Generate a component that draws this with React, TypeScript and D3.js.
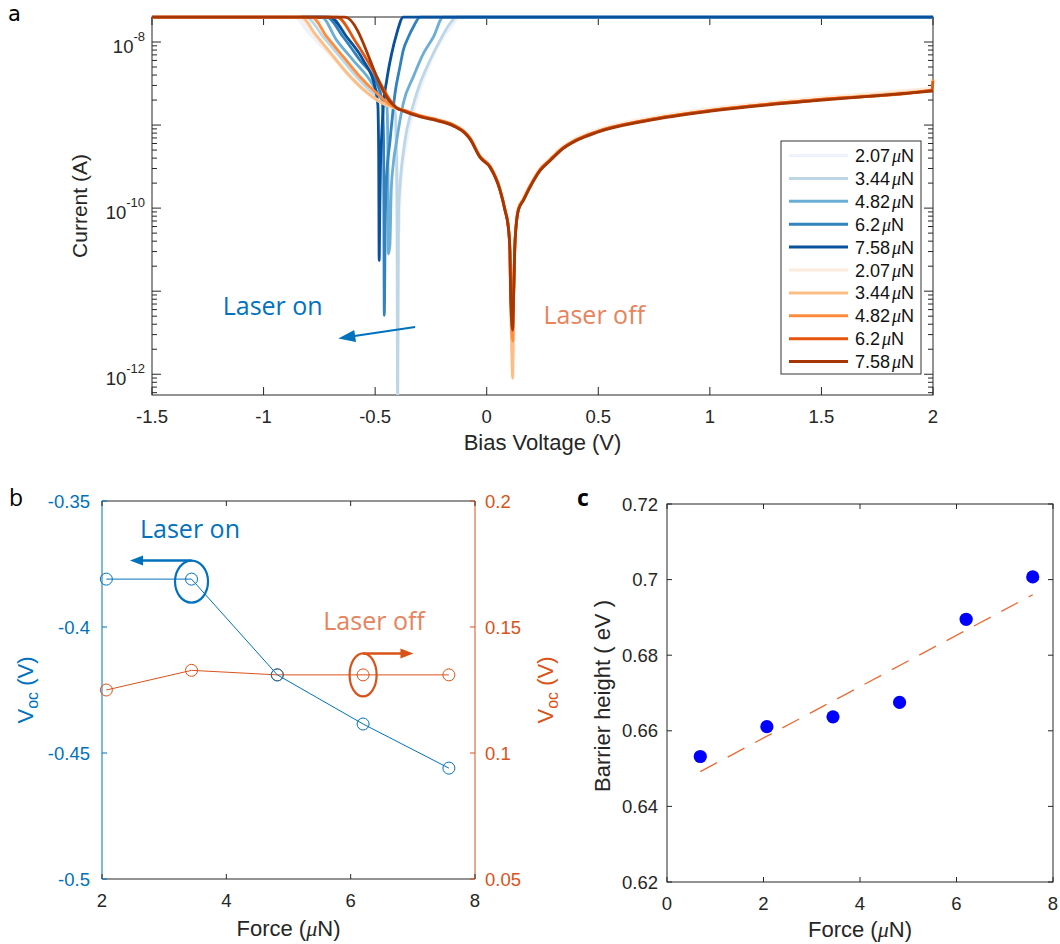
import React from 'react';
import * as d3 from 'd3';

type P = [number, number];

// ---------- Panel a : bias voltage (V) vs log10(current / A) ----------
const blue207: P[] = [[-1.5,-7.7],[-0.86,-7.7],[-0.8,-7.88],[-0.72,-8.1],[-0.64,-8.33],[-0.56,-8.55],[-0.48,-8.72],[-0.42,-8.82],[-0.405,-9.3],[-0.396,-10.3],[-0.388,-9.8],[-0.36,-9.2],[-0.32,-8.75],[-0.27,-8.35],[-0.22,-8.05],[-0.17,-7.85],[-0.12,-7.7],[2.0,-7.7]];
const blue344: P[] = [[-1.5,-7.7],[-0.81,-7.7],[-0.732,-7.94],[-0.657,-8.18],[-0.583,-8.42],[-0.508,-8.62],[-0.433,-8.74],[-0.41,-8.85],[-0.403,-9.6],[-0.399,-12.6],[-0.395,-10.0],[-0.366,-9.18],[-0.336,-8.82],[-0.299,-8.5],[-0.254,-8.22],[-0.209,-7.98],[-0.165,-7.78],[-0.135,-7.7],[2.0,-7.7]];
const blue482: P[] = [[-1.5,-7.7],[-0.74,-7.7],[-0.672,-7.98],[-0.598,-8.22],[-0.523,-8.46],[-0.478,-8.66],[-0.447,-8.78],[-0.443,-9.3],[-0.441,-10.55],[-0.434,-10.45],[-0.428,-9.8],[-0.42,-9.5],[-0.403,-9.18],[-0.374,-8.74],[-0.329,-8.42],[-0.284,-8.14],[-0.239,-7.94],[-0.195,-7.7],[2.0,-7.7]];
const blue620: P[] = [[-1.5,-7.7],[-0.717,-7.7],[-0.643,-7.94],[-0.568,-8.22],[-0.493,-8.5],[-0.469,-8.7],[-0.462,-9.2],[-0.459,-11.29],[-0.455,-10.2],[-0.45,-9.7],[-0.433,-9.18],[-0.411,-8.62],[-0.389,-8.3],[-0.374,-8.1],[-0.351,-7.94],[-0.329,-7.82],[-0.299,-7.7],[2.0,-7.7]];
const blue758: P[] = [[-1.5,-7.7],[-0.702,-7.7],[-0.627,-7.94],[-0.553,-8.22],[-0.501,-8.54],[-0.488,-8.75],[-0.484,-9.4],[-0.482,-10.63],[-0.479,-10.0],[-0.476,-9.5],[-0.472,-9.2],[-0.4635,-8.78],[-0.448,-8.46],[-0.426,-8.14],[-0.403,-7.895],[-0.374,-7.7],[2.0,-7.7]];

const orange207: P[] = [[-1.5,-7.7],[-0.84,-7.7],[-0.777,-7.895],[-0.702,-8.136],[-0.627,-8.377],[-0.553,-8.578],[-0.478,-8.72],[-0.403,-8.8],[-0.375,-8.82],[-0.3,-8.88],[-0.22,-8.93],[-0.15,-8.99],[-0.09,-9.1],[-0.075,-9.15],[-0.03,-9.37],[0.015,-9.49],[0.06,-9.77],[0.082,-10.01],[0.097,-10.22],[0.104,-10.5],[0.1075,-11.05],[0.1165,-11.8],[0.121,-11.0],[0.127,-10.38],[0.1415,-10.0],[0.164,-9.88],[0.194,-9.72],[0.239,-9.52],[0.284,-9.4],[0.33,-9.28],[0.4,-9.16],[0.493,-9.06],[0.717,-8.92],[1.014,-8.8],[1.462,-8.68],[2.0,-8.56]];
const orange344: P[] = [[-1.5,-7.7],[-0.83,-7.7],[-0.77,-7.9],[-0.7,-8.13],[-0.627,-8.37],[-0.553,-8.57],[-0.478,-8.72],[-0.403,-8.8],[-0.375,-8.82],[-0.3,-8.89],[-0.22,-8.94],[-0.15,-9.0],[-0.09,-9.11],[-0.075,-9.16],[-0.03,-9.38],[0.015,-9.5],[0.06,-9.78],[0.082,-10.02],[0.097,-10.23],[0.104,-10.51],[0.1075,-11.07],[0.1165,-12.05],[0.121,-11.0],[0.127,-10.39],[0.1415,-10.02],[0.164,-9.9],[0.194,-9.74],[0.239,-9.54],[0.284,-9.42],[0.33,-9.3],[0.4,-9.18],[0.493,-9.08],[0.717,-8.94],[1.014,-8.82],[1.462,-8.7],[2.0,-8.58]];
const orange482: P[] = [[-1.5,-7.7],[-0.784,-7.7],[-0.717,-7.936],[-0.643,-8.177],[-0.568,-8.418],[-0.493,-8.618],[-0.419,-8.78],[-0.375,-8.82],[-0.3,-8.89],[-0.22,-8.94],[-0.15,-9.0],[-0.09,-9.11],[-0.075,-9.16],[-0.03,-9.38],[0.015,-9.5],[0.06,-9.78],[0.082,-10.02],[0.097,-10.23],[0.104,-10.51],[0.1075,-11.07],[0.1165,-11.6],[0.121,-11.0],[0.127,-10.39],[0.1415,-10.02],[0.164,-9.9],[0.194,-9.74],[0.239,-9.54],[0.284,-9.42],[0.33,-9.3],[0.4,-9.18],[0.493,-9.08],[0.717,-8.94],[1.014,-8.82],[1.462,-8.7],[1.995,-8.58],[2.0,-8.45]];
const orange620: P[] = [[-1.5,-7.7],[-0.672,-7.7],[-0.583,-8.016],[-0.493,-8.418],[-0.433,-8.7],[-0.4,-8.8],[-0.375,-8.82],[-0.3,-8.89],[-0.22,-8.94],[-0.15,-9.0],[-0.09,-9.11],[-0.075,-9.16],[-0.03,-9.38],[0.015,-9.5],[0.06,-9.78],[0.082,-10.02],[0.097,-10.23],[0.104,-10.51],[0.1075,-11.07],[0.1165,-11.3],[0.121,-11.0],[0.127,-10.39],[0.1415,-10.02],[0.164,-9.9],[0.194,-9.74],[0.239,-9.54],[0.284,-9.42],[0.33,-9.3],[0.4,-9.18],[0.493,-9.08],[0.717,-8.94],[1.014,-8.82],[1.462,-8.7],[1.995,-8.58],[2.0,-8.47]];
const orange758: P[] = [[-1.5,-7.7],[-0.635,-7.7],[-0.433,-8.72],[-0.4,-8.8],[-0.375,-8.83],[-0.3,-8.9],[-0.22,-8.95],[-0.15,-9.01],[-0.09,-9.12],[-0.075,-9.17],[-0.03,-9.39],[0.015,-9.51],[0.06,-9.79],[0.082,-10.03],[0.097,-10.24],[0.104,-10.52],[0.1075,-11.08],[0.1165,-11.47],[0.121,-11.0],[0.127,-10.4],[0.1415,-10.03],[0.164,-9.91],[0.194,-9.75],[0.239,-9.55],[0.284,-9.43],[0.33,-9.31],[0.4,-9.19],[0.493,-9.09],[0.717,-8.95],[1.014,-8.83],[1.462,-8.71],[2.0,-8.59]];

const forceLabels = ['2.07', '3.44', '4.82', '6.2', '7.58'];
const blueColors = ['#EEF2FC', '#BDD7E7', '#6BAED6', '#3182BD', '#08519C'];
const orangeColors = ['#FDEBDD', '#FDBE85', '#FD8D3C', '#E6550D', '#A63603'];
const blueSeries = [blue207, blue344, blue482, blue620, blue758];
const orangeSeries = [orange207, orange344, orange482, orange620, orange758];

const xTicksA = [-1.5, -1, -0.5, 0, 0.5, 1, 1.5, 2];
const xTickLabelsA = ['-1.5', '-1', '-0.5', '0', '0.5', '1', '1.5', '2'];
const yLabeledExpA = [-8, -10, -12];

// ---------- Panel b : Voc vs force ----------
const forceB = [2.07, 3.44, 4.82, 6.2, 7.58];
const vocLaserOn = [-0.381, -0.381, -0.419, -0.4385, -0.456];
const vocLaserOff = [0.125, 0.1328, 0.131, 0.131, 0.131];
const xTicksB = [2, 4, 6, 8];
const yTicksBL = [-0.5, -0.45, -0.4, -0.35];
const yTicksBR = [0.05, 0.1, 0.15, 0.2];

// ---------- Panel c : barrier height vs force ----------
const forceC = [0.69, 2.07, 3.44, 4.82, 6.2, 7.58];
const barrierHeight = [0.6532, 0.6611, 0.6637, 0.6675, 0.6895, 0.7007];
const fitForce = [0.69, 7.58];
const fitBarrier = [0.6492, 0.696];
const xTicksC = [0, 2, 4, 6, 8];
const yTicksC = [0.62, 0.64, 0.66, 0.68, 0.7, 0.72];

const AX = '#262626';
const BLUE = '#0072BD';
const ORANGE = '#D95319';
const ORANGE_TXT = '#E8835B';
const TICKFONT = 18.5;
const LABELFONT = 22;
const SANS = "'Liberation Sans', Arial, Helvetica, sans-serif";
const ANNOT = "'Open Sans', 'DejaVu Sans', sans-serif";

function arrowHead(x1: number, y1: number, x2: number, y2: number, len: number, hw: number) {
  const dx = x2 - x1, dy = y2 - y1, L = Math.hypot(dx, dy);
  const ux = dx / L, uy = dy / L;
  const bx = x2 - ux * len, by = y2 - uy * len;
  return `${x2},${y2} ${bx - uy * hw},${by + ux * hw} ${bx + uy * hw},${by - ux * hw}`;
}

const Mu = () => <tspan fontFamily="'Liberation Serif', 'DejaVu Serif', serif" fontStyle="italic">μ</tspan>;

function PanelA() {
  const x = d3.scaleLinear().domain([-1.5, 2]).range([152, 933]);
  const y = d3.scaleLog().domain([Math.pow(10, -12.25), 2e-8]).range([395, 17]);
  const line = d3.line<P>().x(d => x(d[0])).y(d => y(Math.pow(10, d[1]))).curve(d3.curveMonotoneX);
  const [x0, x1] = x.range();
  const [y0, y1] = y.range();
  const minor: { v: number; major: boolean }[] = [];
  d3.range(-13, -7).forEach(e => d3.range(1, 10).forEach(k => {
    const v = k * Math.pow(10, e);
    if (v >= y.domain()[0] && v <= y.domain()[1]) minor.push({ v, major: k === 1 });
  }));
  const arrowFrom: P = [-0.321, -11.43];
  const arrowTo: P = [-0.665, -11.57];
  const ax1 = x(arrowFrom[0]), ay1 = y(Math.pow(10, arrowFrom[1]));
  const ax2 = x(arrowTo[0]), ay2 = y(Math.pow(10, arrowTo[1]));
  return (
    <g>
      <defs>
        <clipPath id="clipA"><rect x={x0} y={y1 - 3} width={x1 - x0 + 3} height={y0 - y1 + 3} /></clipPath>
      </defs>
      <rect x={x0} y={y1} width={x1 - x0} height={y0 - y1} fill="none" stroke={AX} strokeWidth={1} />
      {xTicksA.map((t, i) => (
        <g key={'xa' + i}>
          <line x1={x(t)} x2={x(t)} y1={y0} y2={y0 - 8} stroke={AX} />
          <line x1={x(t)} x2={x(t)} y1={y1} y2={y1 + 8} stroke={AX} />
          <text x={x(t)} y={423} textAnchor="middle" fontSize={TICKFONT} fill={AX}>{xTickLabelsA[i]}</text>
        </g>
      ))}
      {minor.map((m, i) => (
        <g key={'ya' + i}>
          <line x1={x0} x2={x0 + (m.major ? 9 : 5)} y1={y(m.v)} y2={y(m.v)} stroke={AX} />
          <line x1={x1} x2={x1 - (m.major ? 9 : 5)} y1={y(m.v)} y2={y(m.v)} stroke={AX} />
        </g>
      ))}
      {yLabeledExpA.map(e => (
        <text key={'yl' + e} x={145} y={y(Math.pow(10, e)) + 11} textAnchor="end" fontSize={TICKFONT} fill={AX}>
          10<tspan dy={-12} fontSize={13}>{String(e)}</tspan>
        </text>
      ))}
      <text x={(x0 + x1) / 2} y={450} textAnchor="middle" fontSize={LABELFONT} fill={AX}>Bias Voltage (V)</text>
      <text transform={`translate(87,${(y0 + y1) / 2}) rotate(-90)`} textAnchor="middle" fontSize={21} fill={AX}>Current (A)</text>
      <g clipPath="url(#clipA)" fill="none" strokeLinejoin="round">
        {blueSeries.map((s, i) => <path key={'b' + i} d={line(s) || ''} stroke={blueColors[i]} strokeWidth={i === 0 ? 3.5 : 2.8} />)}
        {orangeSeries.map((s, i) => <path key={'o' + i} d={line(s) || ''} stroke={orangeColors[i]} strokeWidth={i === 0 ? 3.5 : 2.8} />)}
      </g>
      <text x={222.7} y={315} fontFamily={ANNOT} fontSize={25} fill={BLUE}>Laser on</text>
      <text x={543.5} y={324} fontFamily={ANNOT} fontSize={25} fill={ORANGE_TXT}>Laser off</text>
      <line x1={ax1} y1={ay1} x2={ax2 + (ax1 - ax2) * 0.1} y2={ay2 + (ay1 - ay2) * 0.1} stroke={BLUE} strokeWidth={2} />
      <polygon points={arrowHead(ax1, ay1, ax2, ay2, 17, 6)} fill={BLUE} />
      <rect x={781} y={141} width={140} height={233} fill="#fff" stroke="#333" strokeWidth={1} />
      {[...blueColors, ...orangeColors].map((c, i) => {
        const ly = 155.5 + i * 22.9;
        return (
          <g key={'lg' + i}>
            <line x1={789} x2={848} y1={ly} y2={ly} stroke={c} strokeWidth={3} />
            <text x={855} y={ly + 6.5} fontSize={18} fill="#111">{forceLabels[i % 5]}<tspan dx={2}><Mu /></tspan>N</text>
          </g>
        );
      })}
    </g>
  );
}

function PanelB() {
  const x = d3.scaleLinear().domain([2, 8]).range([102, 475]);
  const yL = d3.scaleLinear().domain([-0.5, -0.35]).range([879, 501]);
  const yR = d3.scaleLinear().domain([0.05, 0.2]).range([879, 501]);
  const [x0, x1] = x.range();
  const [y0, y1] = yL.range();
  const lineL = d3.line<number>().x((_, i) => x(forceB[i])).y(d => yL(d));
  const lineR = d3.line<number>().x((_, i) => x(forceB[i])).y(d => yR(d));
  const eb = { cx: x(forceB[1]), cy: yL(vocLaserOn[1]) + 2.5, rx: 16.5, ry: 21 };
  const eo = { cx: x(forceB[3]), cy: yR(vocLaserOff[3]), rx: 13.5, ry: 21.5 };
  const tipB = x(2.45), tipO = x(7.01);
  return (
    <g>
      <line x1={x0} x2={x1} y1={y1} y2={y1} stroke={AX} />
      <line x1={x0} x2={x1} y1={y0} y2={y0} stroke={AX} />
      <line x1={x0} x2={x0} y1={y0} y2={y1} stroke={BLUE} />
      <line x1={x1} x2={x1} y1={y0} y2={y1} stroke={ORANGE} />
      {xTicksB.map(t => (
        <g key={'xb' + t}>
          <line x1={x(t)} x2={x(t)} y1={y0} y2={y0 - 5} stroke={AX} />
          <line x1={x(t)} x2={x(t)} y1={y1} y2={y1 + 5} stroke={AX} />
          <text x={x(t)} y={907} textAnchor="middle" fontSize={TICKFONT} fill={AX}>{t}</text>
        </g>
      ))}
      {yTicksBL.map(t => (
        <g key={'ybl' + t}>
          <line x1={x0} x2={x0 + 5} y1={yL(t)} y2={yL(t)} stroke={BLUE} />
          <text x={90} y={yL(t) + 6.5} textAnchor="end" fontSize={TICKFONT} fill={BLUE}>{String(t)}</text>
        </g>
      ))}
      {yTicksBR.map(t => (
        <g key={'ybr' + t}>
          <line x1={x1} x2={x1 - 5} y1={yR(t)} y2={yR(t)} stroke={ORANGE} />
          <text x={485} y={yR(t) + 6.5} textAnchor="start" fontSize={TICKFONT} fill={ORANGE}>{String(t)}</text>
        </g>
      ))}
      <text x={(x0 + x1) / 2} y={935.5} textAnchor="middle" fontSize={LABELFONT} fill={AX}>Force (<Mu />N)</text>
      <text transform={`translate(33,${(y0 + y1) / 2}) rotate(-90)`} textAnchor="middle" fontSize={LABELFONT} fill={BLUE}>
        V<tspan dy={5} fontSize={16}>oc</tspan><tspan dy={-5}> (V)</tspan>
      </text>
      <text transform={`translate(553,${(y0 + y1) / 2}) rotate(-90)`} textAnchor="middle" fontSize={LABELFONT} fill={ORANGE}>
        V<tspan dy={5} fontSize={16}>oc</tspan><tspan dy={-5}> (V)</tspan>
      </text>
      <path d={lineR(vocLaserOff) || ''} fill="none" stroke={ORANGE} strokeWidth={1} />
      {vocLaserOff.map((v, i) => <circle key={'co' + i} cx={x(forceB[i])} cy={yR(v)} r={6} fill="none" stroke={ORANGE} strokeWidth={1} />)}
      <path d={lineL(vocLaserOn) || ''} fill="none" stroke={BLUE} strokeWidth={1} />
      {vocLaserOn.map((v, i) => <circle key={'cb' + i} cx={x(forceB[i])} cy={yL(v)} r={6} fill="none" stroke={BLUE} strokeWidth={1} />)}
      <text x={140} y={538.3} fontFamily={ANNOT} fontSize={25} fill={BLUE}>Laser on</text>
      <ellipse cx={eb.cx} cy={eb.cy} rx={eb.rx} ry={eb.ry} fill="none" stroke={BLUE} strokeWidth={2.2} />
      <line x1={eb.cx} y1={eb.cy - eb.ry} x2={tipB + 10} y2={eb.cy - eb.ry} stroke={BLUE} strokeWidth={2.5} />
      <polygon points={arrowHead(eb.cx, eb.cy - eb.ry, tipB, eb.cy - eb.ry, 13, 5)} fill={BLUE} />
      <text x={323.3} y={630} fontFamily={ANNOT} fontSize={25} fill={ORANGE_TXT}>Laser off</text>
      <ellipse cx={eo.cx} cy={eo.cy} rx={eo.rx} ry={eo.ry} fill="none" stroke={ORANGE} strokeWidth={2.2} />
      <line x1={eo.cx} y1={eo.cy - eo.ry} x2={tipO - 10} y2={eo.cy - eo.ry} stroke={ORANGE} strokeWidth={2.5} />
      <polygon points={arrowHead(eo.cx, eo.cy - eo.ry, tipO, eo.cy - eo.ry, 13, 5)} fill={ORANGE} />
    </g>
  );
}

function PanelC() {
  const x = d3.scaleLinear().domain([0, 8]).range([667, 1053]);
  const y = d3.scaleLinear().domain([0.62, 0.72]).range([882, 504]);
  const [x0, x1] = x.range();
  const [y0, y1] = y.range();
  const fit = d3.line<number>().x((_, i) => x(fitForce[i])).y(d => y(d));
  return (
    <g>
      <rect x={x0} y={y1} width={x1 - x0} height={y0 - y1} fill="none" stroke={AX} />
      {xTicksC.map(t => (
        <g key={'xc' + t}>
          <line x1={x(t)} x2={x(t)} y1={y0} y2={y0 - 5} stroke={AX} />
          <line x1={x(t)} x2={x(t)} y1={y1} y2={y1 + 5} stroke={AX} />
          <text x={x(t)} y={910} textAnchor="middle" fontSize={TICKFONT} fill={AX}>{t}</text>
        </g>
      ))}
      {yTicksC.map(t => (
        <g key={'yc' + t}>
          <line x1={x0} x2={x0 + 5} y1={y(t)} y2={y(t)} stroke={AX} />
          <line x1={x1} x2={x1 - 5} y1={y(t)} y2={y(t)} stroke={AX} />
          <text x={658} y={y(t) + 6.5} textAnchor="end" fontSize={TICKFONT} fill={AX}>{String(t)}</text>
        </g>
      ))}
      <text x={(x0 + x1) / 2} y={937} textAnchor="middle" fontSize={LABELFONT} fill={AX}>Force (<Mu />N)</text>
      <text transform={`translate(610,${(y0 + y1) / 2 + 3}) rotate(-90)`} textAnchor="middle" fontSize={LABELFONT} fill={AX}>Barrier height ( eV )</text>
      <path d={fit(fitBarrier) || ''} fill="none" stroke="#EC6A37" strokeWidth={1.3} strokeDasharray="19 12" />
      {barrierHeight.map((v, i) => <circle key={'pc' + i} cx={x(forceC[i])} cy={y(v)} r={6.6} fill="#0000FF" />)}
    </g>
  );
}

export default function App() {
  return (
    <svg width={1060} height={944} style={{ position: 'absolute', left: 0, top: 0, background: '#fff', display: 'block' }} fontFamily={SANS}>
      <rect x={0} y={0} width={1060} height={944} fill="#fff" />
      <PanelA />
      <PanelB />
      <PanelC />
      <text x={8} y={21} fontFamily="'DejaVu Sans', sans-serif" fontSize={21} fill="#000">a</text>
      <text x={9} y={506} fontFamily={ANNOT} fontSize={23} fill="#000">b</text>
      <text x={577} y={506} fontFamily={ANNOT} fontSize={23} fontWeight="bold" fill="#000">c</text>
    </svg>
  );
}
